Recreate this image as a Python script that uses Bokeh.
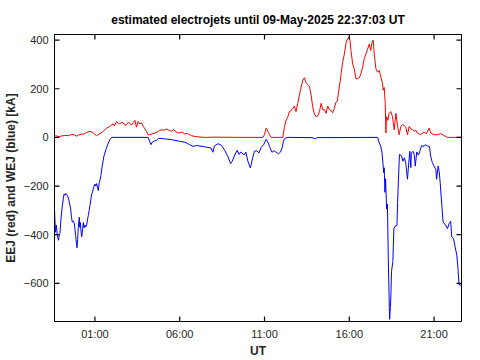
import math
from bokeh.plotting import figure
from bokeh.models import FixedTicker, Range1d, BoxAnnotation
from bokeh.embed import file_html
from bokeh.resources import INLINE

title_text = "estimated electrojets until 09-May-2025 22:37:03 UT"
x_label = "UT"
y_label = "EEJ (red) and WEJ (blue) [kA]"
x_tick_hours = [1, 6, 11, 16, 21]
x_tick_labels = ["01:00", "06:00", "11:00", "16:00", "21:00"]
y_ticks = [-600, -400, -200, 0, 200, 400]
y_tick_labels = ["\u2212600", "\u2212400", "\u2212200", "0", "200", "400"]
x_start, x_end = -1.383, 22.617
y_min, y_max = -757, 423

# EEJ (red), hours relative to 09-May 00:00 UT
eej_t = [-1.38, -1.31, -1.15, -0.95, -0.76, -0.55, -0.37, -0.2, -0.08, 0.05, 0.22, 0.35, 0.51, 0.71, 0.9,
         1.0, 1.1, 1.29, 1.49, 1.69, 1.88, 2.0, 2.08, 2.15, 2.28, 2.38, 2.47, 2.57, 2.67, 2.76, 2.86, 2.96,
         3.06, 3.16, 3.26, 3.36, 3.45, 3.55, 3.65, 3.75, 3.85, 3.95, 4.04, 4.14, 4.24, 4.4, 4.63, 4.8, 4.92,
         5.1, 5.22, 5.35, 5.51, 5.65, 5.8, 6.0, 6.15, 6.29, 6.45, 6.69, 6.9, 7.08, 7.5, 8.0, 9.43, 10.9,
         11.0, 11.1, 11.2, 11.29, 11.4, 12.08, 12.18, 12.28, 12.38, 12.47, 12.57, 12.67, 12.76, 12.86,
         12.96, 13.06, 13.16, 13.26, 13.35, 13.45, 13.55, 13.65, 13.75, 13.84, 13.94, 14.04, 14.14, 14.24,
         14.34, 14.44, 14.53, 14.63, 14.73, 14.83, 14.92, 15.02, 15.12, 15.22, 15.3, 15.38, 15.46, 15.53,
         15.61, 15.71, 15.81, 15.9, 15.96, 16.04, 16.1, 16.2, 16.29, 16.39, 16.49, 16.59, 16.69, 16.79,
         16.88, 16.98, 17.08, 17.18, 17.26, 17.34, 17.41, 17.47, 17.57, 17.67, 17.77, 17.86, 17.96, 18.0,
         18.06, 18.12, 18.16, 18.18, 18.2, 18.28, 18.35, 18.45, 18.55, 18.65, 18.75, 18.85, 18.94, 19.04,
         19.14, 19.24, 19.33, 19.43, 19.53, 19.63, 19.73, 19.83, 19.92, 20.02, 20.2, 20.41, 20.55, 20.71,
         20.8, 21.0, 21.2, 21.39, 21.58, 21.78, 22.617]
eej_kA = [5, 7, 3, 6, 8, 7, 12, 10, 5, 10, 14, 13, 20, 25, 18,
          12, 7, 15, 25, 38, 45, 52, 56, 48, 65, 58, 55, 62, 60, 50, 52, 62,
          58, 50, 61, 70, 42, 65, 55, 60, 45, 35, 25, 11, 11, 15, 20, 28, 31,
          30, 35, 30, 25, 32, 22, 18, 22, 14, 16, 7, 4, 2, 0, 1, 0, 0,
          11, 38, 25, 11, 0, 0, 45, 72, 85, 106, 110, 120, 129, 106,
          140, 174, 207, 235, 245, 224, 218, 210, 174, 126, 96, 85, 88, 106,
          140, 113, 115, 99, 129, 113, 110, 101, 120, 146, 150, 194, 228, 268,
          309, 343, 390, 404, 411, 400, 357, 302, 282, 241, 241, 245, 262, 289,
          323, 343, 363, 384, 357, 390, 400, 343, 282, 268, 275, 248, 221, 194,
          205, 140, 18, 60, 85, 70, 99, 106, 85, 31, 99, 45, 11, 45,
          52, 48, 42, 11, 45, 35, 31, 25, 30, 18, 11, 22, 15, 38,
          18, 11, 11, 15, 8, 0, 0]

# WEJ (blue)
wej_t = [-1.38, -1.33, -1.28, -1.22, -1.15, -1.10, -1.06, -1.0, -0.92, -0.86, -0.82, -0.77, -0.72, -0.66,
         -0.61, -0.53, -0.43, -0.38, -0.33, -0.27, -0.21, -0.14, -0.06, -0.02, 0.02, 0.08, 0.11, 0.14,
         0.18, 0.22, 0.27, 0.32, 0.36, 0.41, 0.46, 0.51, 0.56, 0.61, 0.66, 0.71, 0.76, 0.81, 0.86, 0.90,
         0.95, 1.0, 1.05, 1.10, 1.15, 1.20, 1.26, 1.30, 1.35, 1.43, 1.53, 1.65, 1.75, 1.88, 1.98, 4.14,
         4.22, 4.30, 4.38, 4.50, 4.63, 4.75, 5.0, 5.22, 5.5, 5.71, 6.0, 6.3, 6.45, 6.59, 6.79, 7.0, 7.2,
         7.38, 7.55, 7.67, 7.85, 7.96, 8.05, 8.26, 8.45, 8.65, 8.85, 9.0, 9.1, 9.24, 9.39, 9.5, 9.6, 9.67,
         9.8, 9.9, 10.02, 10.16, 10.22, 10.3, 10.41, 10.55, 10.67, 10.8, 10.95, 11.1, 11.2, 11.3, 11.44,
         11.55, 11.69, 11.82, 11.95, 12.05, 12.12, 12.22, 12.38, 13.8, 14.0, 14.1, 17.67, 17.77, 17.85,
         17.93, 17.98, 18.03, 18.06, 18.1, 18.14, 18.2, 18.25, 18.3, 18.36, 18.38, 18.42, 18.45, 18.49,
         18.57, 18.63, 18.7, 18.81, 18.85, 18.9, 18.96, 19.08, 19.16, 19.25, 19.33, 19.43, 19.5, 19.57,
         19.63, 19.66, 19.75, 19.83, 19.89, 19.98, 20.08, 20.17, 20.26, 20.41, 20.49, 20.6, 20.73, 20.8,
         20.9, 21.0, 21.1, 21.15, 21.24, 21.3, 21.36, 21.43, 21.53, 21.67, 21.79, 21.88, 21.98, 22.04,
         22.14, 22.24, 22.34, 22.41, 22.47, 22.53, 22.617]
wej_kA = [-300, -390, -360, -400, -423, -400, -395, -335, -280, -250, -233, -238, -230, -236,
          -240, -260, -294, -330, -348, -345, -355, -402, -454, -420, -370, -328, -370, -350,
          -385, -409, -380, -350, -372, -360, -368, -362, -340, -321, -300, -280, -255, -233, -225, -213,
          -200, -192, -200, -190, -205, -219, -185, -175, -158, -118, -77, -50, -30, -9, 0, 0,
          -15, -30, -20, -15, -12, -4, -5, -7, -9, -12, -16, -20, -25, -30, -37, -33, -36,
          -37, -40, -41, -44, -61, -35, -26, -32, -53, -80, -108, -98, -73, -53, -70, -60, -64,
          -72, -60, -98, -125, -111, -84, -57, -55, -64, -41, -30, -8, -20, -38, -61,
          -55, -61, -68, -60, -40, -14, -3, 0, -1, -6, -1, 0, -23, -35,
          -64, -104, -145, -125, -226, -170, -294, -275, -497, -700, -748, -700, -660, -551,
          -511, -375, -365, -362, -267, -172, -70, -75, -98, -84, -105, -172, -110, -57,
          -124, -65, -57, -70, -118, -60, -73, -55, -34, -37, -30, -35, -38, -77,
          -104, -118, -131, -172, -118, -140, -185, -253, -348, -360, -375, -355, -345, -409,
          -415, -450, -484, -538, -606, -606, -612]

TEXT = "#262626"
FRAME = "#000000"
FONT = "Liberation Sans"

p = figure(width=480, height=360, output_backend="svg", toolbar_location=None,
           x_range=Range1d(x_start, x_end), y_range=Range1d(y_min, y_max),
           min_border_left=53, min_border_right=19, min_border_top=34, min_border_bottom=36,
           background_fill_color="white", border_fill_color="white")
p.outline_line_color = FRAME
p.outline_line_width = 1
p.grid.visible = False

p.title.text = title_text
p.title.align = "center"
p.title.text_font = FONT
p.title.text_font_size = "12px"
p.title.text_font_style = "bold"
p.title.text_color = "black"
p.title.standoff = 15

p.line(eej_t, eej_kA, line_color="#ff0000", line_width=1)
p.line(wej_t, wej_kA, line_color="#0000ff", line_width=1)

# inward tick marks on all four sides (dash markers centred on the frame edge)
n_x, n_y = len(x_tick_hours), len(y_ticks)
p.scatter(x_tick_hours, [y_min] * n_x, marker="dash", size=10, angle=math.pi / 2,
          line_color=FRAME, line_width=1.2)
p.scatter(x_tick_hours, [y_max] * n_x, marker="dash", size=10, angle=math.pi / 2,
          line_color=FRAME, line_width=1.2)
p.scatter([x_start] * n_y, y_ticks, marker="dash", size=10, line_color=FRAME, line_width=1.2)
p.scatter([x_end] * n_y, y_ticks, marker="dash", size=10, line_color=FRAME, line_width=1.2)

frame_box = BoxAnnotation(fill_alpha=0, fill_color=None, line_color=FRAME, line_width=1,
                          line_alpha=1.0)
p.add_layout(frame_box)

xa = p.xaxis[0]
xa.ticker = FixedTicker(ticks=x_tick_hours)
xa.major_label_overrides = {h: s for h, s in zip(x_tick_hours, x_tick_labels)}
xa.axis_label = x_label
ya = p.yaxis[0]
ya.ticker = FixedTicker(ticks=y_ticks)
ya.major_label_overrides = {v: s for v, s in zip(y_ticks, y_tick_labels)}
ya.axis_label = y_label

for ax in (xa, ya):
    ax.major_tick_in = 0
    ax.major_tick_out = 0
    ax.minor_tick_line_color = None
    ax.axis_line_color = FRAME
    ax.axis_line_width = 1
    ax.major_tick_line_color = FRAME
    ax.major_label_text_font = FONT
    ax.major_label_text_font_size = "11px"
    ax.major_label_text_color = TEXT
    ax.axis_label_text_font = FONT
    ax.axis_label_text_font_size = "12px"
    ax.axis_label_text_font_style = "bold"
    ax.axis_label_text_color = TEXT
    ax.major_label_standoff = 6
xa.axis_label_standoff = 1
ya.axis_label_standoff = 3

open("out.html", "w").write(file_html(p, INLINE))
